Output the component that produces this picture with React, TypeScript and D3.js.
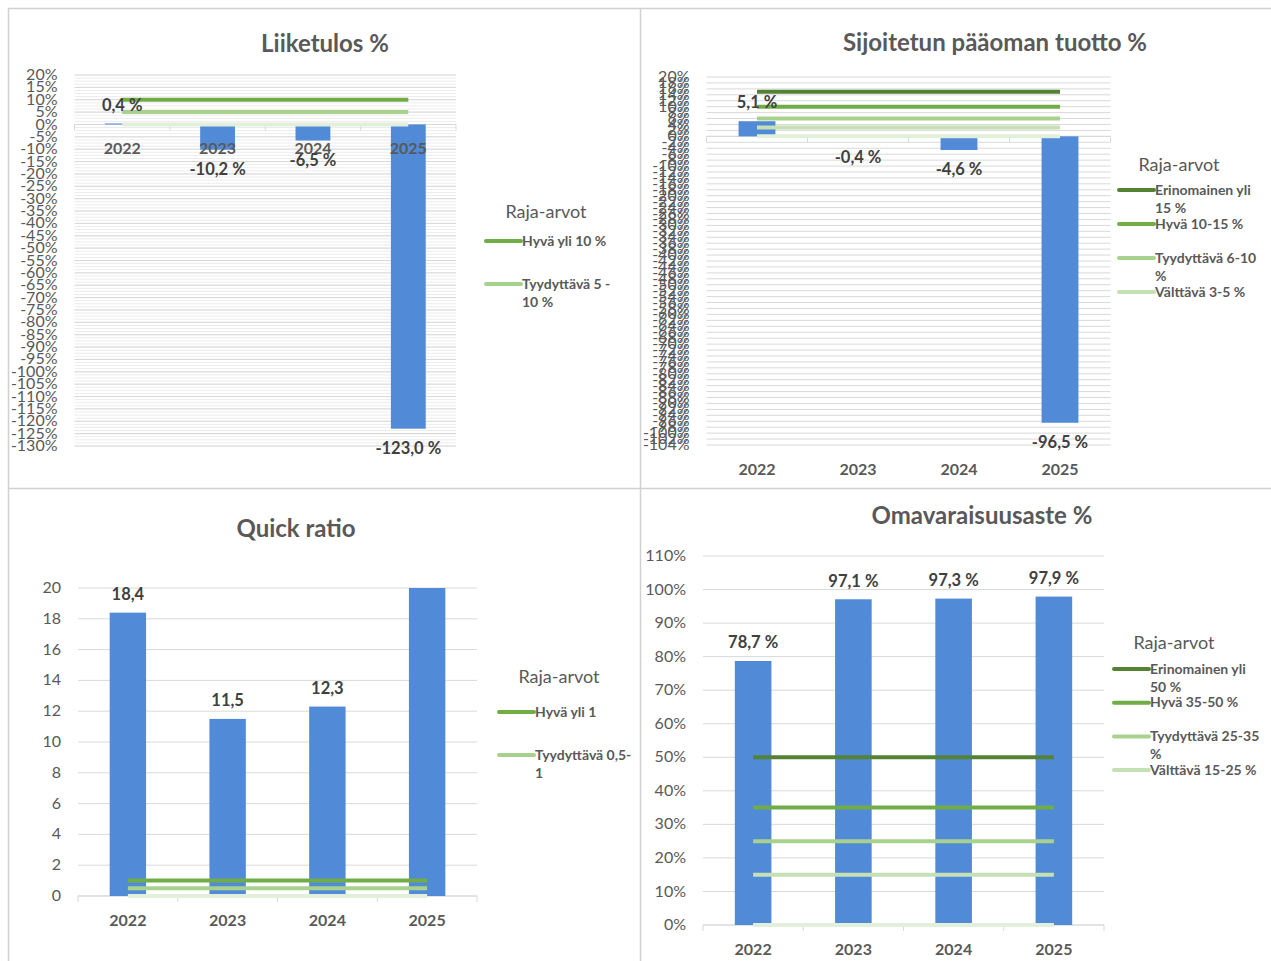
import * as React from 'react'
import * as d3 from 'd3'

const years = ['2022', '2023', '2024', '2025']

const liiketulos = [0.4, -10.2, -6.5, -123.0]
const sijoitettu = [5.1, -0.4, -4.6, -96.5]
const quickRatio = [18.4, 11.5, 12.3, 21.0]
const omavaraisuus = [78.7, 97.1, 97.3, 97.9]

const liiketulosRajat = [10, 5, 0]
const sijoitettuRajat = [15, 10, 6, 3, 0]
const quickRajat = [1, 0.5, 0]
const omavRajat = [50, 35, 25, 15, 0]

const liiketulosLegend = [['Hyvä yli 10 %'], ['Tyydyttävä 5 -', '10 %']]
const sijoitettuLegend = [['Erinomainen yli', '15 %'], ['Hyvä 10-15 %'], ['Tyydyttävä 6-10', '%'], ['Välttävä 3-5 %']]
const quickLegend = [['Hyvä yli 1'], ['Tyydyttävä 0,5-', '1']]
const omavLegend = [['Erinomainen yli', '50 %'], ['Hyvä 35-50 %'], ['Tyydyttävä 25-35', '%'], ['Välttävä 15-25 %']]

const GREENS4 = ['#548235', '#70ad47', '#a9d18e', '#c5e0b4', '#e2efda']
const GREENS2 = ['#70ad47', '#a9d18e', '#e2efda']

const FONT = 'Lato, "Open Sans", "DejaVu Sans", sans-serif'
const BAR = '#518ad6'
const GRID = '#d9d9d9'
const TEXT = '#595959'
const LABEL = '#404040'

const fmtPct = (v: number) => v.toFixed(1).replace('.', ',') + ' %'
const fmtNum = (v: number) => v.toFixed(1).replace('.', ',')

interface PanelProps {
    title: string
    titleX: number
    titleY: number
    values: number[]
    domain: [number, number]
    tickStep: number
    minorStep?: number
    tickFmt: (v: number) => string
    labelFmt: (v: number) => string
    plot: { x0: number, x1: number, y0: number, y1: number }
    catAtZero: boolean
    rajat: number[]
    rajaColors: string[]
    legend: string[][]
    legendX: number
    legendTitleY: number
    legendFirstY: number
    legendGap: number
}

function Panel(p: PanelProps) {
    const x = d3.scaleBand().domain(years).range([p.plot.x0, p.plot.x1])
    const y = d3.scaleLinear().domain(p.domain).range([p.plot.y1, p.plot.y0])
    const bw = x.bandwidth() * 0.365
    const cx = (c: string) => (x(c) as number) + x.bandwidth() / 2
    const ticks = d3.range(p.domain[0], p.domain[1] + p.tickStep / 2, p.tickStep)
    const minor = p.minorStep ? d3.range(p.domain[0], p.domain[1] + 0.001, p.minorStep) : []
    const zeroY = y(Math.max(p.domain[0], 0))
    const catY = p.catAtZero ? y(0) + 25 : p.plot.y1 + 25.5
    const first = cx(years[0])
    const last = cx(years[years.length - 1])
    const clip = (v: number) => Math.max(p.domain[0], Math.min(p.domain[1], v))

    return <g fontFamily={FONT}>
        <text x={p.titleX} y={p.titleY + 1} textAnchor="middle" dominantBaseline="middle" fontSize={24} fontWeight="bold" fill={TEXT}>{p.title}</text>

        {minor.map((t, i) =>
            <line key={'m' + i} x1={p.plot.x0} x2={p.plot.x1} y1={y(t)} y2={y(t)} stroke="#ececec" strokeWidth={1} />
        )}
        {ticks.map((t, i) =>
            <line key={'g' + i} x1={p.plot.x0} x2={p.plot.x1} y1={y(t)} y2={y(t)} stroke={GRID} strokeWidth={1} />
        )}
        {ticks.map((t, i) =>
            <text key={'t' + i} x={p.plot.x0 - 17} y={y(t) + 1} textAnchor="end" dominantBaseline="middle" fontSize={16} fill={TEXT}>{p.tickFmt(t)}</text>
        )}

        <line x1={p.plot.x0} x2={p.plot.x1} y1={zeroY} y2={zeroY} stroke={GRID} strokeWidth={1} />
        {d3.range(years.length + 1).map(i => {
            const xx = p.plot.x0 + i * x.step()
            return <line key={'k' + i} x1={xx} x2={xx} y1={zeroY} y2={zeroY + 6} stroke={GRID} strokeWidth={1} />
        })}

        {p.values.map((v, i) => {
            const vv = clip(v)
            return <rect key={'b' + i} x={cx(years[i]) - bw / 2} width={bw}
                y={Math.min(y(vv), y(0))} height={Math.abs(y(vv) - y(0))} fill={BAR} />
        })}

        {p.rajat.map((r, i) =>
            <line key={'r' + i} x1={first} x2={last} y1={y(r)} y2={y(r)} stroke={p.rajaColors[i]} strokeWidth={4} />
        )}

        {years.map((c, i) =>
            <text key={'c' + i} x={cx(c)} y={catY} textAnchor="middle" dominantBaseline="middle" fontSize={16} fontWeight="bold" fill={TEXT}>{c}</text>
        )}

        {p.values.map((v, i) => v > p.domain[1] ? null :
            <text key={'l' + i} x={cx(years[i])} y={v >= 0 ? y(v) - 17 : y(v) + 21} textAnchor="middle" dominantBaseline="middle" fontSize={16.5} fontWeight="bold" fill={LABEL}>{p.labelFmt(v)}</text>
        )}

        <text x={p.legendX + 60} y={p.legendTitleY + 1} textAnchor="middle" dominantBaseline="middle" fontSize={18} fill={TEXT}>Raja-arvot</text>
        {p.legend.map((lines, i) => {
            const ly = p.legendFirstY + i * p.legendGap
            return <g key={'lg' + i}>
                <line x1={p.legendX} x2={p.legendX + 35} y1={ly} y2={ly} stroke={p.rajaColors[i]} strokeWidth={4} strokeLinecap="round" />
                {lines.map((s, j) =>
                    <text key={j} x={p.legendX + 36} y={ly + 1 + j * 18} dominantBaseline="middle" fontSize={14} fontWeight="bold" fill={TEXT}>{s}</text>
                )}
            </g>
        })}
    </g>
}

export default function App() {
    return <svg width={1271} height={961} style={{ position: 'absolute', left: 0, top: 0, background: '#fff' }}>
        <line x1={8} x2={1271} y1={8.5} y2={8.5} stroke="#d0d0d0" strokeWidth={1.5} />
        <line x1={8.5} x2={8.5} y1={8} y2={961} stroke="#d0d0d0" strokeWidth={1.5} />
        <line x1={640.5} x2={640.5} y1={8} y2={961} stroke="#d0d0d0" strokeWidth={1.5} />
        <line x1={8} x2={1271} y1={488.5} y2={488.5} stroke="#d0d0d0" strokeWidth={1.5} />

        <Panel title="Liiketulos %" titleX={325} titleY={45}
            values={liiketulos} domain={[-130, 20]} tickStep={5} minorStep={1.25}
            tickFmt={v => `${v}%`} labelFmt={fmtPct}
            plot={{ x0: 74.5, x1: 456, y0: 75, y1: 446 }} catAtZero={true}
            rajat={liiketulosRajat} rajaColors={GREENS2} legend={liiketulosLegend}
            legendX={486} legendTitleY={212} legendFirstY={241} legendGap={43} />

        <Panel title="Sijoitetun pääoman tuotto %" titleX={995} titleY={44}
            values={sijoitettu} domain={[-104, 20]} tickStep={2}
            tickFmt={v => `${v}%`} labelFmt={fmtPct}
            plot={{ x0: 706.5, x1: 1110.5, y0: 77, y1: 445 }} catAtZero={false}
            rajat={sijoitettuRajat} rajaColors={GREENS4} legend={sijoitettuLegend}
            legendX={1119} legendTitleY={165} legendFirstY={190} legendGap={34} />

        <Panel title="Quick ratio" titleX={296} titleY={530}
            values={quickRatio} domain={[0, 20]} tickStep={2}
            tickFmt={v => `${v}`} labelFmt={fmtNum}
            plot={{ x0: 78, x1: 477, y0: 588, y1: 896 }} catAtZero={false}
            rajat={quickRajat} rajaColors={GREENS2} legend={quickLegend}
            legendX={499} legendTitleY={677} legendFirstY={712} legendGap={43} />

        <Panel title="Omavaraisuusaste %" titleX={982} titleY={517}
            values={omavaraisuus} domain={[0, 110]} tickStep={10}
            tickFmt={v => `${v}%`} labelFmt={fmtPct}
            plot={{ x0: 703, x1: 1104, y0: 556, y1: 925 }} catAtZero={false}
            rajat={omavRajat} rajaColors={GREENS4} legend={omavLegend}
            legendX={1114} legendTitleY={643} legendFirstY={669} legendGap={33.7} />
    </svg>
}
